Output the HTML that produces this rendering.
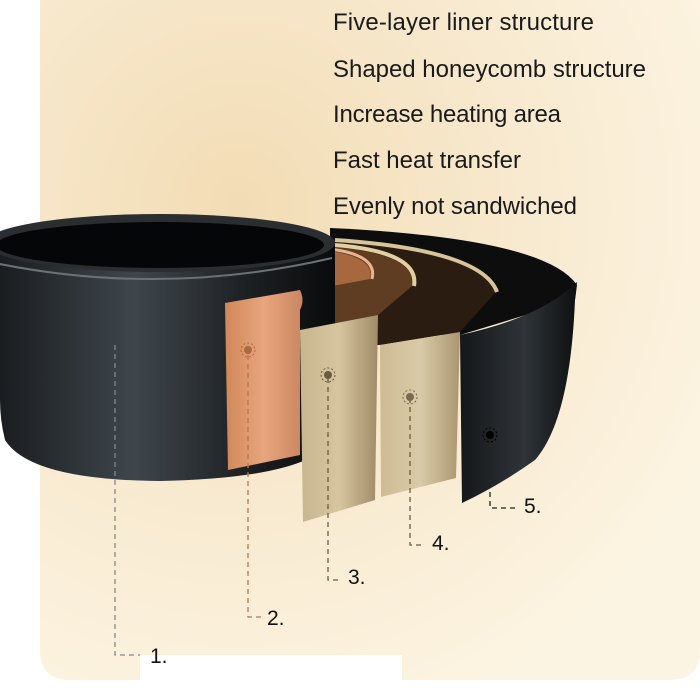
<!DOCTYPE html>
<html><head><meta charset="utf-8"><style>
body{margin:0;width:700px;height:700px;overflow:hidden;background:#fff}
svg{display:block}
text{font-family:"Liberation Sans",sans-serif}
</style></head><body>
<svg width="700" height="700" viewBox="0 0 700 700">
<defs>
<radialGradient id="bg" cx="0.3" cy="0.3" r="0.8">
<stop offset="0" stop-color="#f2dcb4"/><stop offset="0.55" stop-color="#f8ead0"/><stop offset="1" stop-color="#fcf4e2"/>
</radialGradient>
<linearGradient id="pot" x1="0" x2="1">
<stop offset="0" stop-color="#1a1d20"/><stop offset="0.4" stop-color="#3e464c"/><stop offset="0.75" stop-color="#1c1f21"/><stop offset="1" stop-color="#0a0b0c"/>
</linearGradient>
<linearGradient id="cu" x1="0" x2="1"><stop offset="0" stop-color="#d08858"/><stop offset="0.5" stop-color="#e8a57e"/><stop offset="1" stop-color="#c98660"/></linearGradient>
<linearGradient id="g3" x1="0" x2="1"><stop offset="0" stop-color="#c8b68f"/><stop offset="0.5" stop-color="#d6c59e"/><stop offset="1" stop-color="#a08c68"/></linearGradient>
<linearGradient id="g4" x1="0" x2="1"><stop offset="0" stop-color="#cdbb94"/><stop offset="0.5" stop-color="#d9cba8"/><stop offset="1" stop-color="#a99670"/></linearGradient>
<linearGradient id="blk" x1="0" x2="1"><stop offset="0" stop-color="#15171a"/><stop offset="0.55" stop-color="#2f3438"/><stop offset="1" stop-color="#0e0f10"/></linearGradient>
</defs>
<path d="M40 0 H700 V650 Q700 680 670 680 H402 V655 H140 V680 H70 Q40 680 40 650 Z" fill="url(#bg)"/>
<!-- back arcs -->
<path d="M330 228 Q545 238 577 285 L575 300 L460 335 L330 335 Z" fill="#0d0d0e"/>
<path d="M335 242 Q482 252 496 292 L460 332 L380 345 L335 345 Z" fill="#2a1c10"/>
<path d="M335 240 Q482 250 497 292" stroke="#d8c49a" stroke-width="4" fill="none"/>
<path d="M335 247 Q418 255 412 286 L378 315 L300 330 L335 330 Z" fill="#5e3d22"/>
<path d="M335 245 Q420 252 414 286" stroke="#e2cfa2" stroke-width="4" fill="none"/>
<path d="M330 251 Q376 258 370 279 L300 292 L330 292 Z" fill="#a8683f"/>
<path d="M330 249 Q378 255 372 279" stroke="#eab48e" stroke-width="3" fill="none"/>
<!-- pot -->
<path d="M0 238 L335 245 L335 438 Q310 478 160 481 Q30 480 5 440 Q0 420 0 400 Z" fill="url(#pot)"/>
<ellipse cx="160" cy="243" rx="175" ry="29" fill="#2a2e31"/>
<ellipse cx="160" cy="245" rx="164" ry="23" fill="#050607"/>
<path d="M-10 262 Q160 298 332 258" stroke="#6a7277" stroke-width="2" fill="none"/>
<!-- panels -->
<path d="M225 303 L300 290 Q305 300 300 310 L300 455 L228 470 Z" fill="url(#cu)"/>
<path d="M300 330 L378 315 L375 500 L303 522 Z" fill="url(#g3)"/>
<path d="M380 345 L460 332 L456 478 L381 497 Z" fill="url(#g4)"/>
<path d="M460 335 Q540 318 577 282 L575 300 Q570 420 535 460 Q500 485 462 503 Z" fill="url(#blk)"/>
<!-- dashes -->
<g fill="none" stroke-width="1.3" stroke-dasharray="5,4">
<path d="M115 345 V655 H140" stroke="#888"/>
<path d="M248 355 V617 H262" stroke="#b8764e"/>
<path d="M328 378 V580 H342" stroke="#6a5a44"/>
<path d="M410 398 V545 H425" stroke="#6a5a44"/>
<path d="M490 420 V508 H518" stroke="#222"/>
</g>
<g>
<circle cx="248" cy="350" r="4" fill="#a86a44"/><circle cx="248" cy="350" r="7" fill="none" stroke="#a86a44" stroke-dasharray="2,2"/>
<circle cx="328" cy="375" r="4" fill="#6a5a44"/><circle cx="328" cy="375" r="7" fill="none" stroke="#6a5a44" stroke-dasharray="2,2"/>
<circle cx="410" cy="397" r="4" fill="#7a6a50"/><circle cx="410" cy="397" r="7" fill="none" stroke="#7a6a50" stroke-dasharray="2,2"/>
<circle cx="490" cy="435" r="4" fill="#000"/><circle cx="490" cy="435" r="7" fill="none" stroke="#000" stroke-dasharray="2,2"/>
</g>
<g font-size="21" fill="#111">
<text x="150" y="663">1.</text><text x="267" y="625">2.</text><text x="348" y="584">3.</text><text x="432" y="550">4.</text><text x="524" y="513">5.</text>
</g>
<g font-size="24" fill="#1a1a1a" textLength="0">
<text x="333" y="30" textLength="261">Five-layer liner structure</text>
<text x="333" y="77" textLength="313">Shaped honeycomb structure</text>
<text x="333" y="122" textLength="228">Increase heating area</text>
<text x="333" y="168" textLength="188">Fast heat transfer</text>
<text x="333" y="214" textLength="244">Evenly not sandwiched</text>
</g>
</svg>
</body></html>
